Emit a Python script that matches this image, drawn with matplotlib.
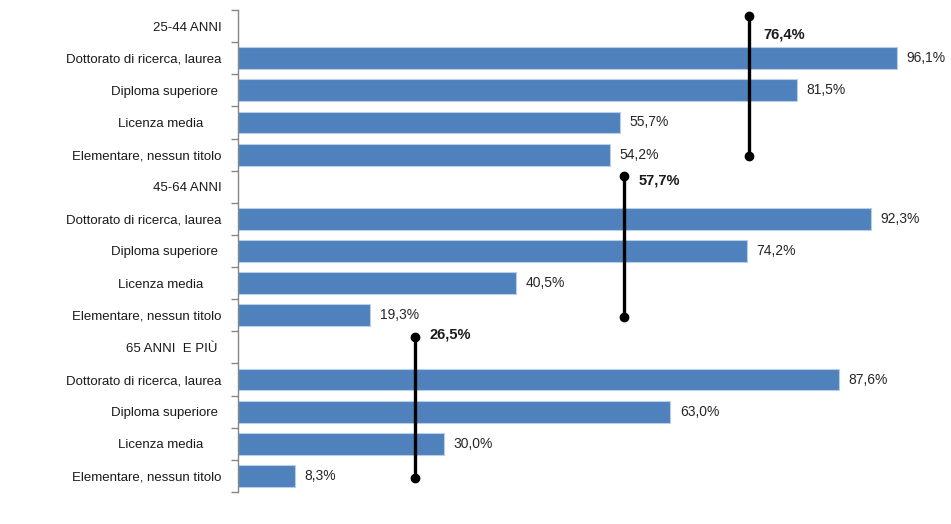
import matplotlib.pyplot as plt
import numpy as np

plt.rcParams['font.family'] = ['Liberation Sans', 'DejaVu Sans']

gruppi = ['25-44 ANNI', '45-64 ANNI', '65 ANNI  E PIÙ ']
titoli = ['Dottorato di ricerca, laurea', 'Diploma superiore ',
          'Licenza media     ', 'Elementare, nessun titolo']
valori = [
    [96.1, 81.5, 55.7, 54.2],
    [92.3, 74.2, 40.5, 19.3],
    [87.6, 63.0, 30.0, 8.3],
]
totali = [76.4, 57.7, 26.5]
off_etichetta = [0.25, -0.2, -0.4]

fig = plt.figure(figsize=(9.51, 5.24), dpi=100)
ax = fig.add_axes([0.2503, 0.061, 0.7213, 0.920])

colore = '#4F81BD'
etichette = []
pos = []
riga = 0
header_y = []
for g in range(3):
    etichette.append(gruppi[g])
    pos.append(riga)
    header_y.append(riga)
    riga += 1
    for i in range(4):
        v = valori[g][i]
        ax.barh(riga, v, height=0.68, color=colore, edgecolor='#B9CDE5', linewidth=0.8)
        ax.text(v + 1.4, riga, f'{v:.1f}%'.replace('.', ','), va='center', ha='left',
                fontsize=10, color='#262626')
        etichette.append(titoli[i])
        pos.append(riga)
        riga += 1

ax.set_ylim(riga - 0.5, -0.5)
ax.set_xlim(0, 100)
ax.set_yticks(pos)
ax.set_yticklabels(etichette, fontsize=9.5, color='#1a1a1a')
ax.tick_params(axis='y', which='major', length=0, pad=12)
ax.set_yticks(np.arange(-0.5, riga, 1), minor=True)
ax.tick_params(axis='y', which='minor', length=5, width=1, color='#868686')
ax.set_xticks([])
for s in ['top', 'right', 'bottom']:
    ax.spines[s].set_visible(False)
ax.spines['left'].set_color('#868686')
ax.spines['left'].set_linewidth(1)

# linee del totale su asse secondario
ax2 = ax.twiny()
ax2.set_xlim(0, 102.6)
ax2.set_ylim(ax.get_ylim())
ax2.axis('off')
for g in range(3):
    h = header_y[g]
    t = totali[g]
    ax2.plot([t, t], [h - 0.32, h + 4.05], color='black', lw=2.4,
             marker='o', markersize=6, solid_capstyle='butt')
    ax2.text(t + 2.2, h + off_etichetta[g], f'{t:.1f}%'.replace('.', ','),
             fontsize=10.5, fontweight='bold', va='center', ha='left', color='#1a1a1a')

fig.savefig('out.png', dpi=100)
